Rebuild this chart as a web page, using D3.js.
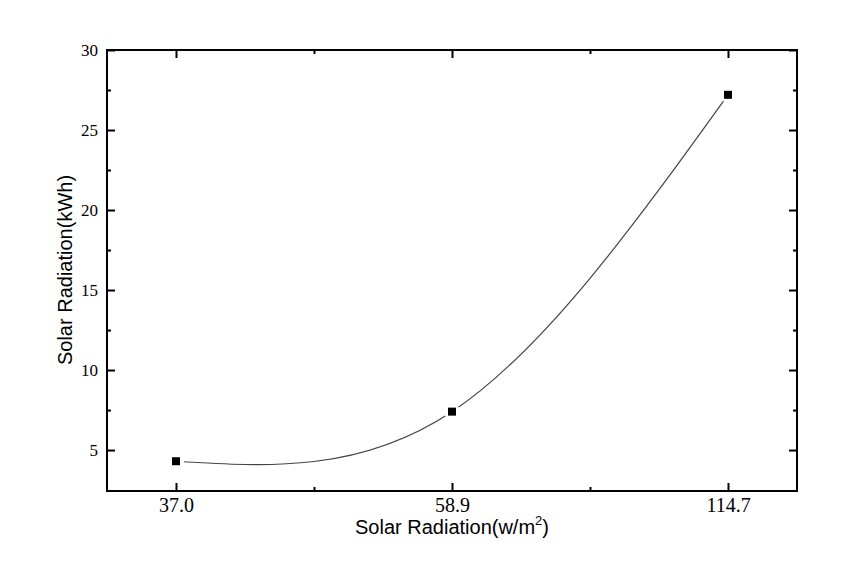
<!DOCTYPE html>
<html>
<head>
<meta charset="utf-8">
<script src="https://cdn.jsdelivr.net/npm/d3@7"></script>
<style>
  body { margin: 0; background: #fff; }
  svg { display: block; }
</style>
</head>
<body>
<svg id="chart" width="855" height="587"></svg>
<script>
(function() {
  'use strict';

  // chart data
  const categories = ['37.0', '58.9', '114.7'];
  const energy = [4.3, 7.4, 27.2];
  const yTicks = [5, 10, 15, 20, 25, 30];
  const yMinorTicks = [7.5, 12.5, 17.5, 22.5, 27.5];

  const margin = { left: 107, top: 50, right: 58, bottom: 96 };
  const width = 855 - margin.left - margin.right;
  const height = 587 - margin.top - margin.bottom;

  let svg = d3.select('#chart');
  let g = svg.append('g')
    .attr('transform', 'translate(' + margin.left + ',' + margin.top + ')');

  // x is categorical, evenly spaced, with padding of a quarter step each side
  let x = d3.scaleLinear().domain([-0.25, categories.length - 0.75]).range([0, width]);
  let y = d3.scaleLinear().domain([2.44, 30]).range([height, 0]);

  let points = energy.map((v, i) => ({ i: i, v: v }));
  let xMinor = d3.range(categories.length - 1).map(i => i + 0.5);

  // curve through points
  let line = d3.line()
    .x(d => x(d.i))
    .y(d => y(d.v))
    .curve(d3.curveNatural);

  g.append('path')
    .datum(points)
    .attr('d', line)
    .attr('fill', 'none')
    .attr('stroke', '#444')
    .attr('stroke-width', 1.2);

  // gap around markers, like the original
  g.selectAll('.gap')
    .data(points)
    .enter()
    .append('circle')
    .attr('cx', d => x(d.i))
    .attr('cy', d => y(d.v))
    .attr('r', 8)
    .attr('fill', '#fff');

  g.selectAll('.marker')
    .data(points)
    .enter()
    .append('rect')
    .attr('x', d => x(d.i) - 4)
    .attr('y', d => y(d.v) - 4)
    .attr('width', 8)
    .attr('height', 8)
    .attr('fill', '#000');

  // axes, ticks pointing inward on all four sides
  function styleAxis(sel, size) {
    sel.select('.domain').remove();
    sel.selectAll('.tick line').attr('stroke', '#000').attr('stroke-width', 2);
    sel.selectAll('.tick text')
      .attr('fill', '#000')
      .style('font-family', '"Liberation Serif", "Times New Roman", serif')
      .style('font-size', (size || 17) + 'px');
  }

  g.append('g')
    .attr('transform', 'translate(0,' + height + ')')
    .call(d3.axisBottom(x).tickValues(d3.range(categories.length))
      .tickFormat(i => categories[i]).tickSize(-8).tickPadding(7))
    .call(styleAxis, 20);
  g.append('g')
    .attr('transform', 'translate(0,' + height + ')')
    .call(d3.axisBottom(x).tickValues(xMinor).tickFormat('').tickSize(-4))
    .call(styleAxis);

  g.append('g')
    .call(d3.axisTop(x).tickValues(d3.range(categories.length)).tickFormat('').tickSize(-8))
    .call(styleAxis);
  g.append('g')
    .call(d3.axisTop(x).tickValues(xMinor).tickFormat('').tickSize(-4))
    .call(styleAxis);

  g.append('g')
    .call(d3.axisLeft(y).tickValues(yTicks).tickSize(-8).tickPadding(9))
    .call(styleAxis, 17);
  g.append('g')
    .call(d3.axisLeft(y).tickValues(yMinorTicks).tickFormat('').tickSize(-4))
    .call(styleAxis);

  g.append('g')
    .attr('transform', 'translate(' + width + ',0)')
    .call(d3.axisRight(y).tickValues(yTicks).tickFormat('').tickSize(-8))
    .call(styleAxis);
  g.append('g')
    .attr('transform', 'translate(' + width + ',0)')
    .call(d3.axisRight(y).tickValues(yMinorTicks).tickFormat('').tickSize(-4))
    .call(styleAxis);

  // frame
  g.append('rect')
    .attr('width', width)
    .attr('height', height)
    .attr('fill', 'none')
    .attr('stroke', '#000')
    .attr('stroke-width', 2);

  // axis titles
  let xTitle = svg.append('text')
    .attr('x', margin.left + x(1))
    .attr('y', 534)
    .attr('text-anchor', 'middle')
    .style('font-family', '"Liberation Sans", Arial, sans-serif')
    .style('font-size', '20px')
    .attr('fill', '#000');
  xTitle.append('tspan').text('Solar Radiation(w/m');
  xTitle.append('tspan').attr('dy', -9).style('font-size', '13px').text('2');
  xTitle.append('tspan').attr('dy', 9).text(')');

  svg.append('text')
    .attr('transform', 'translate(72,270) rotate(-90)')
    .attr('text-anchor', 'middle')
    .style('font-family', '"Liberation Sans", Arial, sans-serif')
    .style('font-size', '20px')
    .attr('fill', '#000')
    .text('Solar Radiation(kWh)');
})();
</script>
</body>
</html>
